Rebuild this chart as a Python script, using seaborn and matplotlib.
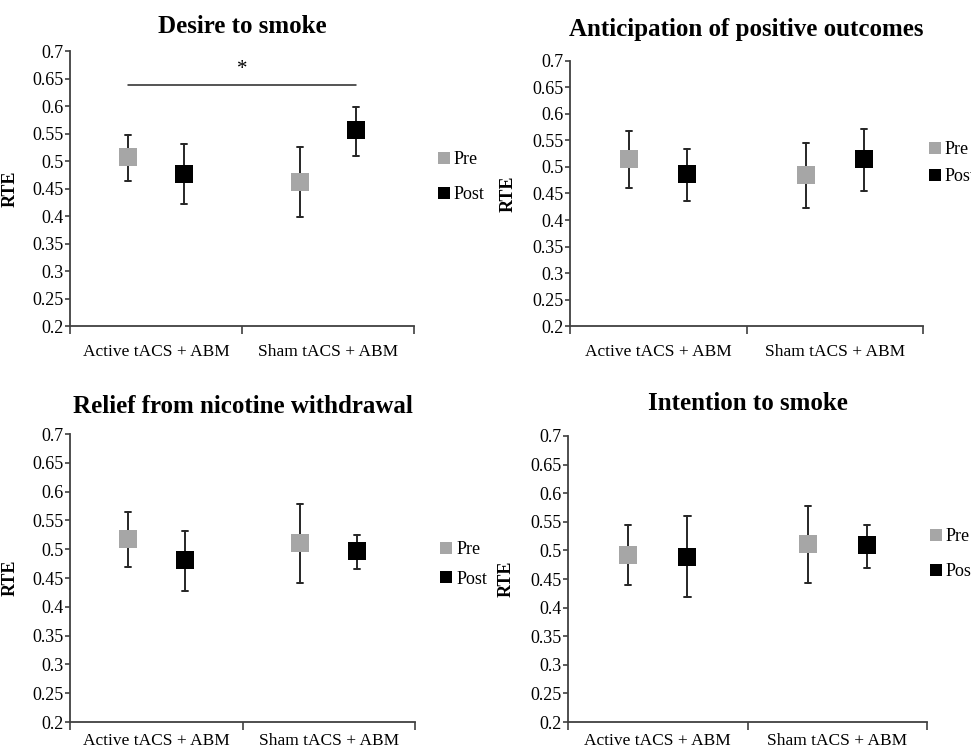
import numpy as np
import pandas as pd
import matplotlib
matplotlib.use("Agg")
import matplotlib.pyplot as plt
from matplotlib.lines import Line2D
import seaborn as sns

groups = ["Active tACS + ABM", "Sham tACS + ABM"]
times = ["Pre", "Post"]
titles = ["Desire to smoke", "Anticipation of positive outcomes",
          "Relief from nicotine withdrawal", "Intention to smoke"]

# mean, lower and upper end of the error bar; order: Active Pre, Active Post, Sham Pre, Sham Post
desire_mean = [0.508, 0.476, 0.461, 0.556]
desire_lo = [0.464, 0.421, 0.398, 0.509]
desire_hi = [0.547, 0.531, 0.525, 0.599]

anticip_mean = [0.515, 0.487, 0.484, 0.515]
anticip_lo = [0.461, 0.435, 0.423, 0.455]
anticip_hi = [0.568, 0.534, 0.545, 0.572]

relief_mean = [0.517, 0.481, 0.510, 0.497]
relief_lo = [0.469, 0.427, 0.442, 0.466]
relief_hi = [0.564, 0.531, 0.578, 0.524]

intent_mean = [0.492, 0.489, 0.512, 0.509]
intent_lo = [0.439, 0.418, 0.443, 0.470]
intent_hi = [0.545, 0.560, 0.577, 0.545]

yticks = [0.2, 0.25, 0.3, 0.35, 0.4, 0.45, 0.5, 0.55, 0.6, 0.65, 0.7]

panels = [
    (desire_mean, desire_lo, desire_hi),
    (anticip_mean, anticip_lo, anticip_hi),
    (relief_mean, relief_lo, relief_hi),
    (intent_mean, intent_lo, intent_hi),
]

# significance bar in the first panel
sig_y = 0.638
star_y = 0.667


def long_table(mean, lo, hi):
    rows = []
    k = 0
    for g in groups:
        for t in times:
            for v in (lo[k], mean[k], hi[k]):
                rows.append({"group": g, "time": t, "RTE": v})
            k += 1
    return pd.DataFrame(rows)


sns.set_theme(style="ticks")
plt.rcParams["font.family"] = ["Liberation Serif", "DejaVu Serif"]
plt.rcParams["text.color"] = "black"
plt.rcParams["xtick.color"] = "black"
plt.rcParams["ytick.color"] = "black"
plt.rcParams["axes.labelcolor"] = "black"

fig = plt.figure(figsize=(9.71, 7.5), dpi=100)

boxes = [
    [0.0721, 0.5653, 0.3543, 0.3667],
    [0.587, 0.5653, 0.3636, 0.3534],
    [0.0721, 0.0373, 0.3553, 0.384],
    [0.585, 0.0373, 0.3697, 0.3814],
]
title_pads = [13, 18, 15, 19]
label_pads = [13, 13, 8, 8]
legend_pos = [(1.07, 0.542), (1.018, 0.615), (1.075, 0.547), (1.01, 0.587)]
legend_space = [1.0, 0.55, 0.7, 1.0]
palette = {"Pre": "#a6a6a6", "Post": "#000000"}
dodge = 0.33

for i, (mean, lo, hi) in enumerate(panels):
    ax = fig.add_axes(boxes[i])
    df = long_table(mean, lo, hi)
    sns.pointplot(data=df, x="group", y="RTE", hue="time", order=groups,
                  hue_order=times, palette=palette, estimator="median",
                  errorbar=("pi", 100), dodge=dodge, capsize=0.035,
                  marker="s", linestyle="none", markersize=13,
                  markeredgewidth=0, err_kws={"color": "#262626", "linewidth": 1.4, "zorder": 1},
                  legend=False, ax=ax)

    ax.set_ylim(0.2, 0.7)
    ax.set_yticks(yticks)
    ax.set_yticklabels([f"{v:g}" for v in yticks])
    ax.set_xlim(-0.5, 1.5)
    ax.set_xticks([-0.5, 0.5, 1.5])
    ax.set_xticklabels(["", "", ""])
    ax.set_xticks([0, 1], minor=True)
    ax.set_xticklabels(groups, minor=True)
    ax.tick_params(axis="x", which="major", length=6, width=1.2, color="#404040")
    ax.tick_params(axis="x", which="minor", length=0, pad=label_pads[i], labelsize=12.5)
    ax.tick_params(axis="y", length=3.5, width=1.2, pad=1, labelsize=13, color="#404040")
    ax.set_xlabel("")
    ax.set_ylabel("RTE", fontsize=13, fontweight="bold")
    ax.yaxis.set_label_coords(-0.15, 0.5)
    sns.despine(ax=ax)
    for s in ["left", "bottom"]:
        ax.spines[s].set_color("#404040")
        ax.spines[s].set_linewidth(1.3)
    ax.set_title(titles[i], fontsize=18, fontweight="bold", pad=title_pads[i])

    handles = [Line2D([], [], marker="s", linestyle="none", color=palette[t],
                      markersize=8, markeredgewidth=0) for t in times]
    ax.legend(handles, times, loc="center left", bbox_to_anchor=legend_pos[i],
              frameon=False, fontsize=13, handlelength=0.6, handletextpad=0.25,
              borderpad=0, borderaxespad=0, labelspacing=legend_space[i])

    if i == 0:
        ax.plot([-dodge / 2, 1 + dodge / 2], [sig_y, sig_y], color="#262626", lw=1.1)
        ax.text(0.5, star_y, "*", ha="center", va="center", fontsize=15)

fig.savefig("out.png", dpi=100)
